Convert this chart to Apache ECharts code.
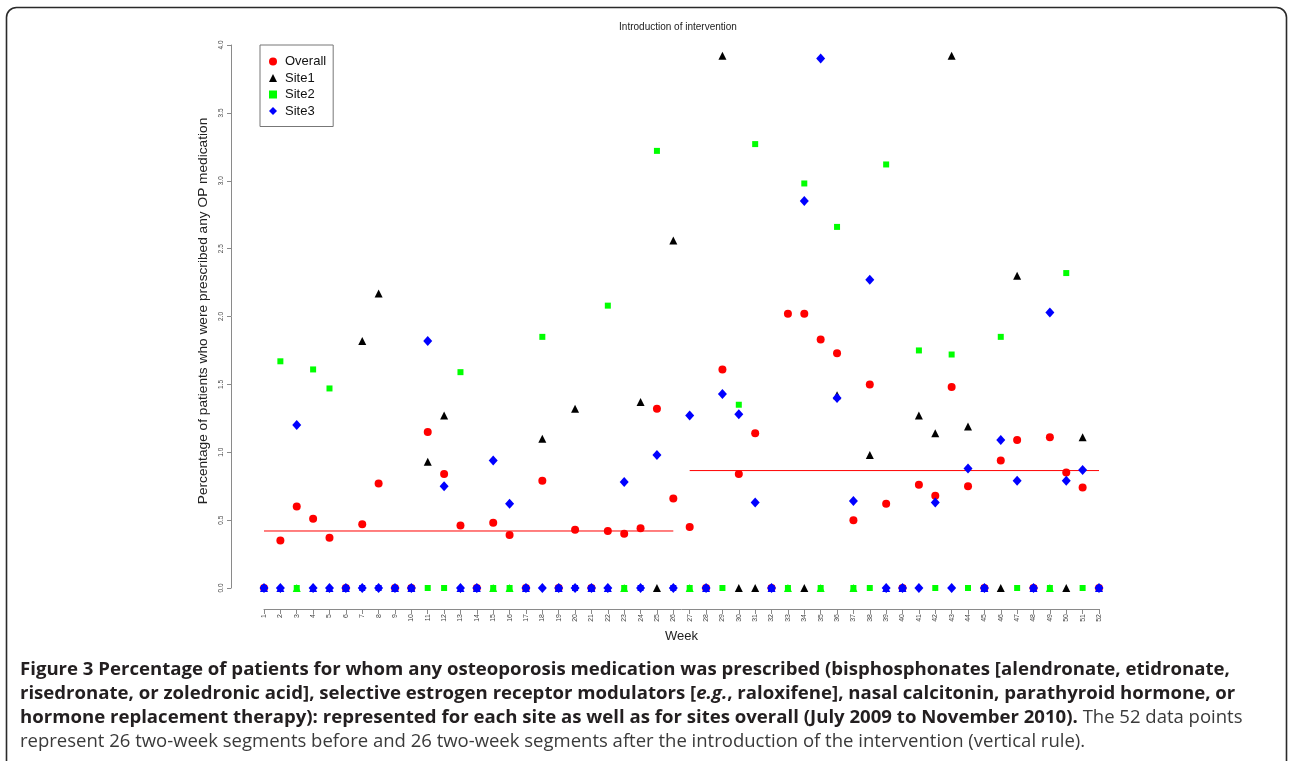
<!DOCTYPE html>
<html>
<head>
<meta charset="utf-8">
<script src="https://cdn.jsdelivr.net/npm/echarts@6/dist/echarts.min.js"></script>
<style>
html,body{margin:0;padding:0;background:#fff;}
#chart{width:1289px;height:761px;}
</style>
</head>
<body>
<div id="chart"></div>
<script>
// ---- data ----
const weeks = [1,2,3,4,5,6,7,8,9,10,11,12,13,14,15,16,17,18,19,20,21,22,23,24,25,26,
               27,28,29,30,31,32,33,34,35,36,37,38,39,40,41,42,43,44,45,46,47,48,49,50,51,52];
const overall = [0,0.35,0.60,0.51,0.37,0,0.47,0.77,0,0,1.15,0.84,0.46,0,0.48,0.39,0,0.79,0,0.43,0,0.42,0.40,0.44,1.32,0.66,
                 0.45,0,1.61,0.84,1.14,0,2.02,2.02,1.83,1.73,0.50,1.50,0.62,0,0.76,0.68,1.48,0.75,0,0.94,1.09,0,1.11,0.85,0.74,0];
const site1 = [0,0,0,0,0,0,1.82,2.17,0,0,0.93,1.27,0,0,0,0,0,1.10,0,1.32,0,0,0,1.37,0,2.56,
               0,0,3.92,0,0,0,0,0,0,1.42,0,0.98,0,0,1.27,1.14,3.92,1.19,0,0,2.30,0,0,0,1.11,0];
const site2 = [0,1.67,0,1.61,1.47,0,0,0,0,0,0,0,1.59,0,0,0,0,1.85,0,0,0,2.08,0,0,3.22,0,
               0,0,0,1.35,3.27,0,0,2.98,0,2.66,0,0,3.12,0,1.75,0,1.72,0,0,1.85,0,0,0,2.32,0,0];
const site3 = [0,0,1.20,0,0,0,0,0,0,0,1.82,0.75,0,0,0.94,0.62,0,0,0,0,0,0,0.78,0,0.98,0,
               1.27,0,1.43,1.28,0.63,0,null,2.85,3.90,1.40,0.64,2.27,0,0,0,0.63,0,0.88,0,1.09,0.79,0,2.03,0.79,0.87,0];
const meanPre = 0.42;            // overall mean, weeks 1-26
const meanPost = 0.865;          // overall mean, weeks 27-52
const preWeeks = [1, 26];
const postWeeks = [27, 52];
const interventionWeek = 26.5;
const yTicks = [0, 0.5, 1.0, 1.5, 2.0, 2.5, 3.0, 3.5, 4.0];

const pairs = arr => weeks.map((w, i) => [w, arr[i]]);

const RED = '#ff0000', BLACK = '#000000', GREEN = '#00ff00', BLUE = '#0000ff';
// Overplotting as in the original R figure: a zero mark shows the colour of the mark drawn over it
const site1Color = p => {
  if (p.value[1] !== 0) return BLACK;
  if (site3[p.dataIndex] === 0) return BLUE;
  if (site2[p.dataIndex] === 0) return GREEN;
  return BLACK;
};
const site2Color = p => (p.value[1] === 0 && site3[p.dataIndex] === 0) ? BLUE : GREEN;

const chart = echarts.init(document.getElementById('chart'), null, {renderer: 'canvas'});
const sans = 'Liberation Sans, Arial, Helvetica, sans-serif';
const capFont = 'Open Sans, sans-serif';
const capB = 18.6, capN = 18.5;

const option = {
  animation: false,
  backgroundColor: '#ffffff',
  grid: {left: 264, right: 190, top: 45, bottom: 173, containLabel: false},
  xAxis: {
    type: 'value', min: weeks[0], max: weeks[weeks.length - 1], interval: 1,
    offset: 21,
    name: 'Week', nameLocation: 'middle', nameGap: 20,
    nameTextStyle: {fontFamily: sans, fontSize: 13, color: '#222'},
    axisLine: {show: true, onZero: false, lineStyle: {color: '#8a8a8a', width: 1}},
    axisTick: {show: true, length: 5, lineStyle: {color: '#8a8a8a'}},
    axisLabel: {rotate: 90, fontSize: 7, fontFamily: sans, color: '#444', margin: 5},
    splitLine: {show: false}
  },
  yAxis: {
    type: 'value', min: yTicks[0], max: yTicks[yTicks.length - 1], interval: 0.5,
    offset: 33,
    axisLine: {show: true, onZero: false, lineStyle: {color: '#8a8a8a', width: 1}},
    axisTick: {show: true, length: 4, lineStyle: {color: '#8a8a8a'}},
    axisLabel: {rotate: 90, fontSize: 6.5, fontFamily: sans, color: '#444', margin: 6,
                formatter: v => v.toFixed(1)},
    splitLine: {show: false}
  },
  legend: {
    left: 260, top: 45, orient: 'vertical',
    borderColor: '#777', borderWidth: 1,
    padding: [10, 7, 9, 9],
    itemGap: 3.5, itemWidth: 8, itemHeight: 8,
    textStyle: {fontFamily: sans, fontSize: 13, color: '#111', padding: [0, 0, 0, 3]},
    data: [
      {name: 'Overall', icon: 'circle', itemStyle: {color: RED}},
      {name: 'Site1', icon: 'triangle', itemStyle: {color: BLACK}},
      {name: 'Site2', icon: 'rect', itemStyle: {color: GREEN}},
      {name: 'Site3', icon: 'diamond', itemStyle: {color: BLUE}}
    ]
  },
  graphic: [
    {type: 'rect', z: 0, silent: true,
     shape: {x: 6.5, y: 7.5, width: 1280, height: 820, r: 10},
     style: {fill: null, stroke: '#2a2a2a', lineWidth: 1.6}},
    {type: 'text', x: 678, y: 27, silent: true,
     style: {text: 'Introduction of intervention', font: '10px ' + sans, fill: '#222',
             textAlign: 'center', textVerticalAlign: 'middle'}},
    {type: 'text', x: 203, y: 311, rotation: Math.PI / 2, silent: true,
     style: {text: 'Percentage of patients who were prescribed any OP medication',
             font: '13.7px ' + sans, fill: '#222', textAlign: 'center', textVerticalAlign: 'middle'}},
    {type: 'text', x: 20, y: 670, silent: true,
     style: {text: '{b|Figure 3 Percentage of patients for whom any osteoporosis medication was prescribed (bisphosphonates [alendronate, etidronate,}',
             textVerticalAlign: 'middle',
             rich: {b: {fontFamily: capFont, fontWeight: 'bold', fontSize: capB, fill: '#231f20'}}}},
    {type: 'text', x: 20, y: 694, silent: true,
     style: {text: '{b|risedronate, or zoledronic acid], selective estrogen receptor modulators [}{bi|e.g.}{b|, raloxifene], nasal calcitonin, parathyroid hormone, or}',
             textVerticalAlign: 'middle',
             rich: {b: {fontFamily: capFont, fontWeight: 'bold', fontSize: capB, fill: '#231f20'},
                    bi: {fontFamily: capFont, fontWeight: 'bold', fontStyle: 'italic', fontSize: capB, fill: '#231f20'}}}},
    {type: 'text', x: 20, y: 718, silent: true,
     style: {text: '{b|hormone replacement therapy): represented for each site as well as for sites overall (July 2009 to November 2010).}{n| The 52 data points}',
             textVerticalAlign: 'middle',
             rich: {b: {fontFamily: capFont, fontWeight: 'bold', fontSize: capB, fill: '#231f20'},
                    n: {fontFamily: capFont, fontSize: capN, fill: '#3a3a3a'}}}},
    {type: 'text', x: 20, y: 742, silent: true,
     style: {text: '{n|represent 26 two-week segments before and 26 two-week segments after the introduction of the intervention (vertical rule).}',
             textVerticalAlign: 'middle',
             rich: {n: {fontFamily: capFont, fontSize: capN, fill: '#3a3a3a'}}}}
  ],
  series: [
    {
      name: 'meanPre', type: 'line', symbol: 'none', clip: false, silent: true, z: 1,
      lineStyle: {color: RED, width: 1},
      data: [[preWeeks[0], meanPre], [preWeeks[1], meanPre]],
      markLine: {
        silent: true, symbol: ['none', 'none'], label: {show: false},
        lineStyle: {color: '#0000ee', type: [5, 3], width: 1.5},
        data: [[{coord: [interventionWeek, -0.15]}, {coord: [interventionWeek, 4.08]}]]
      }
    },
    {
      name: 'meanPost', type: 'line', symbol: 'none', clip: false, silent: true, z: 1,
      lineStyle: {color: RED, width: 1},
      data: [[postWeeks[0], meanPost], [postWeeks[1], meanPost]]
    },
    {
      name: 'Overall', type: 'scatter', symbol: 'circle', symbolSize: 8, clip: false, z: 2,
      itemStyle: {color: RED, opacity: 1},
      data: pairs(overall)
    },
    {
      name: 'Site1', type: 'scatter', symbol: 'triangle', symbolSize: 8, clip: false, z: 3,
      itemStyle: {opacity: 1, color: site1Color},
      data: pairs(site1)
    },
    {
      name: 'Site2', type: 'scatter', symbol: 'rect', symbolSize: 6, clip: false, z: 4,
      itemStyle: {opacity: 1, color: site2Color},
      data: pairs(site2)
    },
    {
      name: 'Site3', type: 'scatter', symbol: 'diamond', symbolSize: [9, 10], clip: false, z: 5,
      itemStyle: {color: BLUE, opacity: 1},
      data: pairs(site3)
    }
  ]
};
chart.setOption(option);
</script>
</body>
</html>
